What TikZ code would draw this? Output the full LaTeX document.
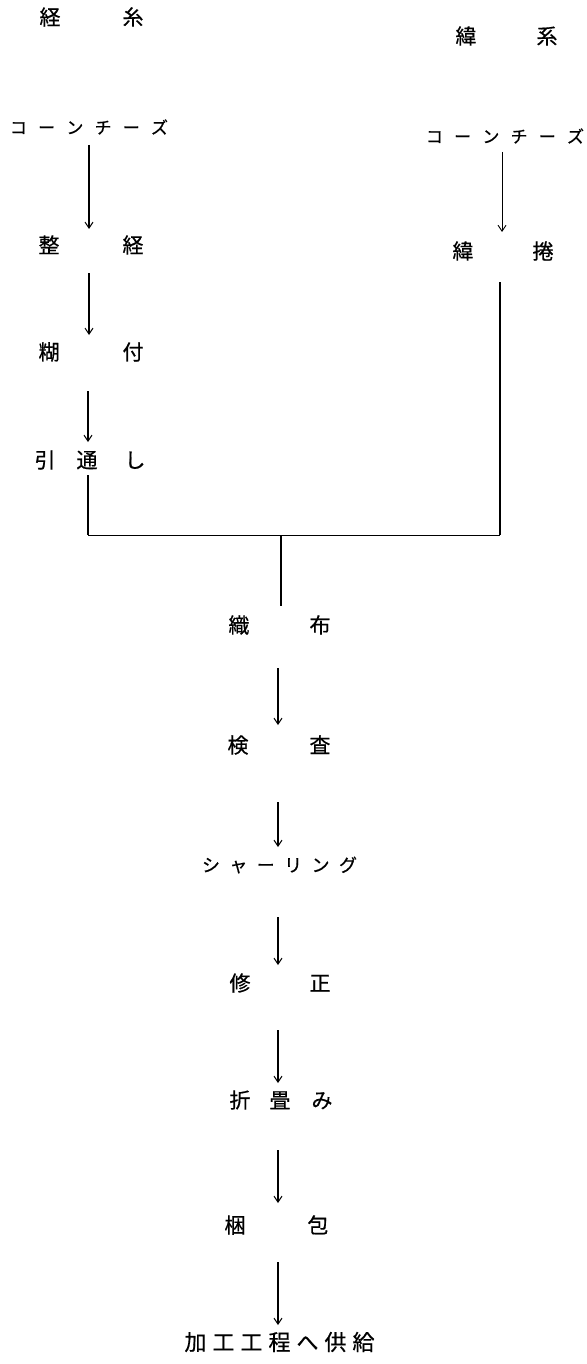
\documentclass[tikz,border=0pt]{standalone}
\usepackage{fontspec}
\newfontfamily\jpfont[FakeBold=0.6]{Noto Sans CJK JP}
\usetikzlibrary{arrows.meta,calc}
\newcommand\hgap[1]{\hspace*{#1pt}}
\begin{document}
\begin{tikzpicture}[x=1pt,y=-1pt,
  lbl/.style={inner sep=0pt, font=\jpfont\fontsize{21}{21}\selectfont},
  kana/.style={inner sep=0pt, font=\jpfont\fontsize{17}{17}\selectfont},
  kana2/.style={inner sep=0pt, font=\jpfont\fontsize{18}{18}\selectfont},
  big/.style={inner sep=0pt, font=\jpfont\fontsize{22}{22}\selectfont},
  ln/.style={line width=1.4pt},
  thinln/.style={line width=0.8pt},
  arr/.style={line width=1.4pt, -{Straight Barb[length=6pt,width=8pt,line width=1pt]}},
  thinarr/.style={line width=0.9pt, -{Straight Barb[length=6pt,width=8pt,line width=0.9pt]}},
]
\fill[white] (0,0) rectangle (586,1364);
\useasboundingbox (0,0) rectangle (586,1364);

% labels
\node[lbl] (keiito) at (91.5,17) {経\hgap{62}糸};
\node[lbl] (iito) at (506.5,36) {緯\hgap{60}系};
\node[kana] (coneL) at (89,127) {コ\hgap{11.2}ー\hgap{11.2}ン\hgap{11.2}チ\hgap{11.2}ー\hgap{11.2}ズ};
\node[kana] (coneR) at (505,136) {コ\hgap{11.2}ー\hgap{11.2}ン\hgap{11.2}チ\hgap{11.2}ー\hgap{11.2}ズ};
\node[lbl] (seikei) at (91,245) {整\hgap{63}経};
\node[lbl] (ikan) at (503,251) {緯\hgap{59}捲};
\node[lbl] (norizuke) at (91,352) {糊\hgap{63}付};
\node[lbl] (hiki) at (90,460) {引\hgap{21}通\hgap{27}し};
\node[lbl] (shokufu) at (279.5,625) {織\hgap{60}布};
\node[lbl] (kensa) at (279,745) {検\hgap{61}査};
\node[kana2] (shear) at (279.5,865) {シ\hgap{9.4}ャ\hgap{9.4}ー\hgap{9.4}リ\hgap{9.4}ン\hgap{9.4}グ};
\node[lbl] (shusei) at (280,983) {修\hgap{59}正};
\node[lbl] (tatami) at (281,1100) {折\hgap{19}畳\hgap{21}み};
\node[lbl] (konpo) at (276.5,1225) {梱\hgap{62}包};
\node[big] (kakou) at (279.5,1342) {加\hgap{6}工\hgap{6}工\hgap{6}程\hgap{6}へ\hgap{6}供\hgap{6}給};

% junction coordinates
\coordinate (jL) at (88,535);
\coordinate (jC) at (281,535);
\coordinate (jR) at (500,535);

% warp column
\draw[arr] ($(coneL)+(0,18)$) -- ($(coneL |- seikei)+(0,-16)$);
\draw[arr] ($(seikei)+(-2,28)$) -- ($(seikei |- norizuke)+(-2,-17)$);
\draw[arr] ($(norizuke)+(-3,39)$) -- ($(norizuke |- hiki)+(-3,-18)$);
\draw[ln] ($(hiki)+(-2,15)$) -- (jL);

% weft column
\draw[thinarr] ($(coneR)+(-3,16)$) -- ($(coneR |- ikan)+(-3,-19)$);
\draw[ln] ($(ikan)+(-3,31)$) -- (jR);

% joining line
\draw[thinln] (jL) -- (jR);
\draw[ln] (jC) -- ($(jC |- shokufu)+(0,-19)$);

% main chain
\draw[arr] ($(shokufu)+(-1.5,43)$) -- ($(shokufu |- kensa)+(-1.5,-20)$);
\draw[arr] ($(kensa)+(-1,57)$) -- ($(kensa |- shear)+(-1,-18)$);
\draw[arr] ($(shear)+(-1.5,52)$) -- ($(shear |- shusei)+(-1.5,-18)$);
\draw[arr] ($(shusei)+(-2,47)$) -- ($(shusei |- tatami)+(-2,-17)$);
\draw[arr] ($(tatami)+(-3,50)$) -- ($(tatami |- konpo)+(-3,-22)$);
\draw[arr] ($(konpo)+(1.5,37)$) -- ($(konpo |- kakou)+(1.5,-17)$);
\end{tikzpicture}
\end{document}
